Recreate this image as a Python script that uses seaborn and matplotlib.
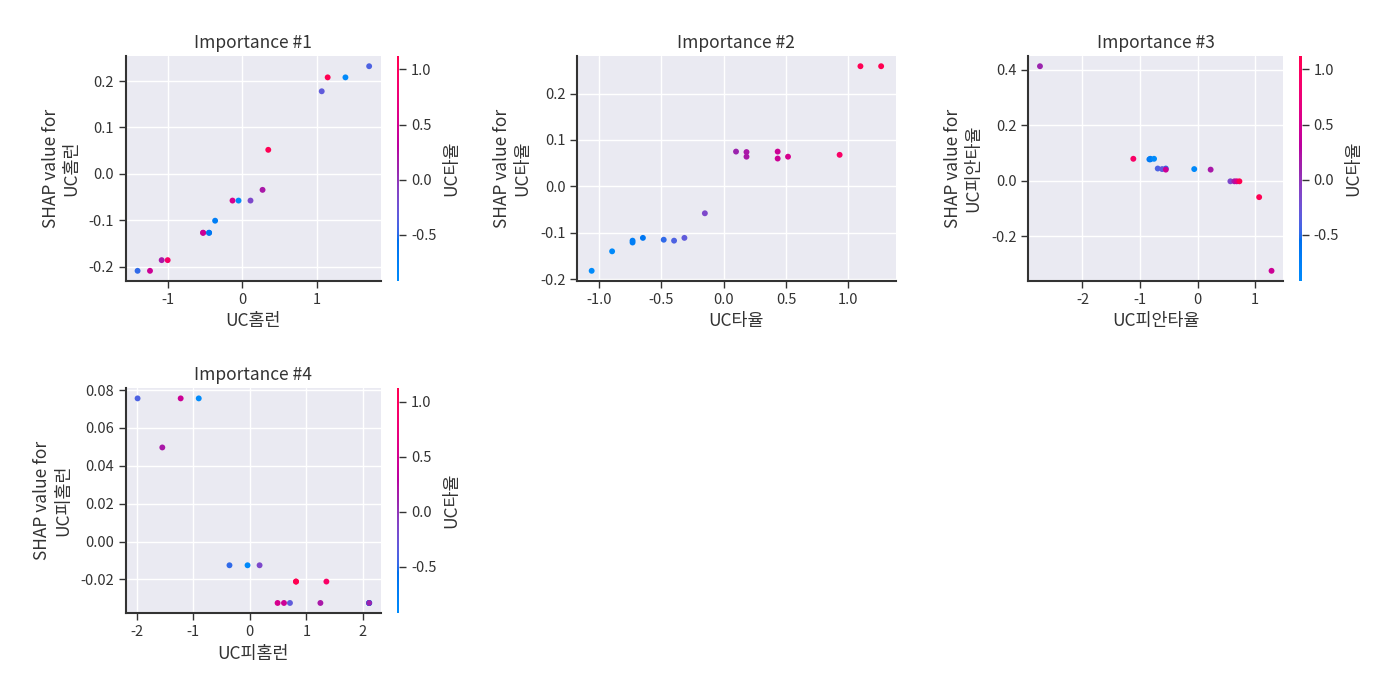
import numpy as np
import pandas as pd
import matplotlib
matplotlib.use("Agg")
import matplotlib.pyplot as plt
import seaborn as sns
from matplotlib.colors import LinearSegmentedColormap, Normalize
from matplotlib.cm import ScalarMappable

color_feature = "UC타율"

# panel 1: UC홈런
hr_x = [-0.526, -0.445, -1.407, -1.24, -1.083, -1.002, -0.526, -0.445, -0.364, -0.13, -0.049,
        0.112, 0.274, 0.351, 1.07, 1.15, 1.389, 1.708]
hr_shap = [-0.127, -0.127, -0.209, -0.209, -0.186, -0.186, -0.127, -0.127, -0.101, -0.0576, -0.0576,
           -0.0576, -0.0345, 0.0518, 0.178, 0.208, 0.208, 0.232]
hr_c = [0.099, -0.731, -0.481, 0.433, 0.183, 0.930, 0.433, -0.648, -0.731, 0.516, -1.059,
        -0.151, 0.183, 1.097, -0.315, 1.263, -0.895, -0.398]

# panel 2: UC타율 (coloured by itself)
avg_x = [-1.059, -0.895, -0.731, -0.731, -0.648, -0.481, -0.398, -0.315, -0.151,
         0.099, 0.183, 0.183, 0.433, 0.433, 0.516, 0.930, 1.097, 1.263]
avg_shap = [-0.182, -0.140, -0.117, -0.121, -0.111, -0.115, -0.117, -0.111, -0.058,
            0.075, 0.074, 0.064, 0.075, 0.060, 0.064, 0.068, 0.259, 0.259]
avg_c = avg_x

# panel 3: UC피안타율
oavg_x = [-0.82, -0.552, -2.738, -1.116, -0.837, -0.82, -0.756, -0.692, -0.616, -0.552,
          -0.058, 0.227, 0.570, 0.640, 0.68, 0.727, 1.07, 1.285]
oavg_shap = [0.077, 0.044, 0.412, 0.079, 0.077, 0.079, 0.079, 0.044, 0.042, 0.040,
             0.042, 0.040, -0.002, -0.002, -0.002, -0.002, -0.059, -0.324]
oavg_c = [-0.731, -0.481, 0.099, 0.930, -0.648, -0.731, -1.059, -0.398, -0.315, 0.433,
          -0.895, 0.183, -0.151, 0.183, 0.516, 1.263, 1.097, 0.433]

# panel 4: UC피홈런
ohr_x = [2.112, 2.112, 2.112, 0.817, -1.988, -1.225, -0.905, -1.550, -0.361, -0.041,
         0.172, 0.817, 1.355, 0.491, 0.604, 0.71, 1.249, 2.112]
ohr_shap = [-0.0324, -0.0324, -0.0324, -0.0211, 0.0756, 0.0756, 0.0756, 0.0497, -0.0125, -0.0125,
            -0.0125, -0.0211, -0.0211, -0.0324, -0.0324, -0.0324, -0.0324, -0.0324]
ohr_c = [-0.731, -0.731, -0.648, 1.097, -0.398, 0.433, -1.059, 0.183, -0.481, -0.895,
         -0.151, 1.263, 0.930, 0.516, 0.433, -0.315, 0.183, 0.099]

panels = [
    ("UC홈런", hr_x, hr_shap, hr_c, True),
    ("UC타율", avg_x, avg_shap, avg_c, False),
    ("UC피안타율", oavg_x, oavg_shap, oavg_c, True),
    ("UC피홈런", ohr_x, ohr_shap, ohr_c, True),
]


# shap-like red/blue colormap built in LCH space
def lch_to_rgb(l, c, h):
    a = c * np.cos(h)
    b = c * np.sin(h)
    fy = (l + 16) / 116
    fx = fy + a / 500
    fz = fy - b / 200

    def finv(t):
        return np.where(t > 6 / 29, t ** 3, 3 * (6 / 29) ** 2 * (t - 4 / 29))

    xyz = np.array([0.95047 * finv(fx), finv(fy), 1.08883 * finv(fz)])
    m = np.array([[3.2406, -1.5372, -0.4986],
                  [-0.9689, 1.8758, 0.0415],
                  [0.0557, -0.2040, 1.0570]])
    lin = m @ xyz
    srgb = np.where(lin > 0.0031308, 1.055 * np.clip(lin, 0, None) ** (1 / 2.4) - 0.055, 12.92 * lin)
    return np.clip(srgb, 0, 1)


nsteps = 100
l_vals = list(np.linspace(54, 40, nsteps // 2)) + list(np.linspace(40, 54, nsteps // 2))
c_vals = np.linspace(70, 90, nsteps)
h_vals = np.linspace(4.6588, 0.35470565 + 2 * np.pi, nsteps)
cols = [lch_to_rgb(l, c, h) for l, c, h in zip(l_vals, c_vals, h_vals)]
red_blue = LinearSegmentedColormap.from_list("red_blue", cols)

vmin = np.percentile(avg_c, 5)
vmax = np.percentile(avg_c, 95)
norm = Normalize(vmin=vmin, vmax=vmax)

axis_color = "#333333"
sns.set_theme(style="darkgrid")
plt.rcParams["font.family"] = ["Noto Sans CJK KR", "DejaVu Sans"]
plt.rcParams["axes.unicode_minus"] = False

fig = plt.figure(figsize=(14, 7), dpi=100)
fig.subplots_adjust(left=0.09, right=0.962, top=0.92, bottom=0.124, wspace=0.417, hspace=0.476)

for i, (name, xs, ys, cs, has_cb) in enumerate(panels):
    ax = fig.add_subplot(2, 3, i + 1)
    df = pd.DataFrame({"x": xs, "y": ys, "c": np.clip(cs, vmin, vmax)})
    sns.scatterplot(data=df, x="x", y="y", hue="c", palette=red_blue, hue_norm=norm,
                    s=18, linewidth=0, legend=False, ax=ax)
    ax.set_title(f"Importance #{i + 1}", fontsize=12.5, color=axis_color)
    ax.set_xlabel(name, fontsize=12.5, color=axis_color)
    ax.set_ylabel(f"SHAP value for\n{name}", fontsize=12.5, color=axis_color, labelpad=6)
    for side in ["top", "right"]:
        ax.spines[side].set_visible(False)
    for side in ["left", "bottom"]:
        ax.spines[side].set_visible(True)
        ax.spines[side].set_color(axis_color)
        ax.spines[side].set_linewidth(1.5)
    ax.tick_params(axis="both", which="major", labelsize=10.5, labelcolor=axis_color,
                   color=axis_color, length=5, width=1, bottom=True, left=True)
    if has_cb:
        sm = ScalarMappable(norm=norm, cmap=red_blue)
        cb = fig.colorbar(sm, ax=ax, aspect=90)
        cb.outline.set_visible(False)
        cb.set_label(color_feature, size=12.5, color=axis_color)
        cb.ax.tick_params(labelsize=10.5, labelcolor=axis_color, color=axis_color,
                          length=5, width=1, right=True)

fig.savefig("out.png", dpi=100)
